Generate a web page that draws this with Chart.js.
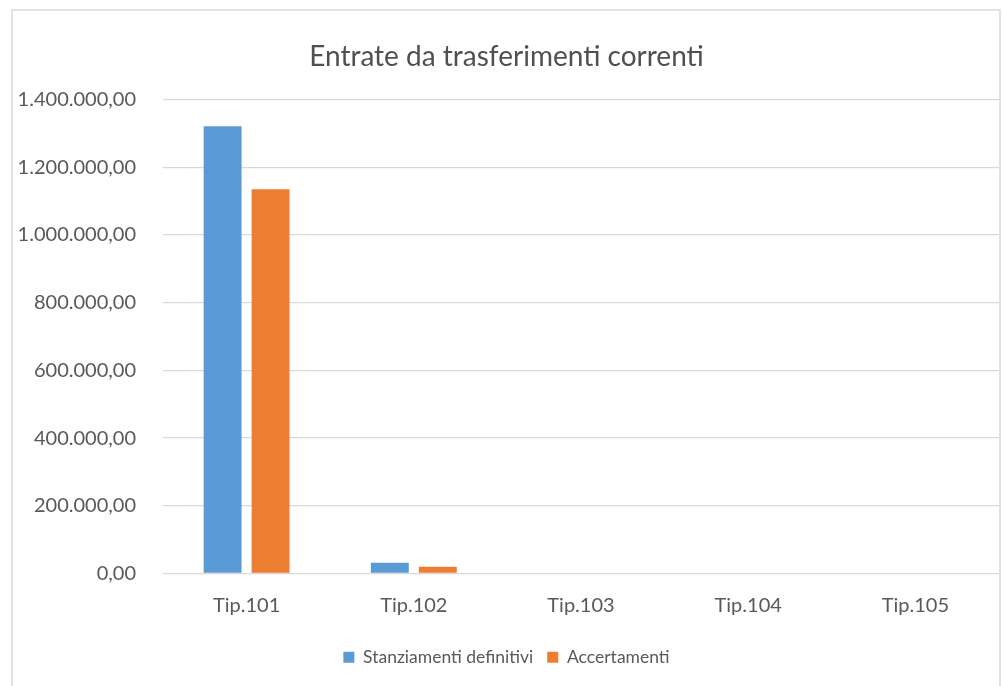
<!DOCTYPE html>
<html>
<head>
<meta charset="utf-8">
<script src="https://cdn.jsdelivr.net/npm/chart.js@4.4.1/dist/chart.umd.min.js"></script>
<style>
  html, body { margin: 0; padding: 0; background: #ffffff; }
  #wrap { position: relative; width: 1003px; height: 686px; }
</style>
</head>
<body>
<div id="wrap"><canvas id="c" width="1003" height="686"></canvas></div>
<script>
const categories = ["Tip.101", "Tip.102", "Tip.103", "Tip.104", "Tip.105"];
const stanziamenti = [1321000, 31500, 0, 0, 0];
const accertamenti = [1135000, 19800, 0, 0, 0];
const yTicks = [0, 200000, 400000, 600000, 800000, 1000000, 1200000, 1400000];

function fmtIt(v) {
  const s = Math.round(v).toString().replace(/\B(?=(\d{3})+(?!\d))/g, ".");
  return s + ",00";
}

const borderPlugin = {
  id: 'outerBorder',
  beforeDraw(chart) {
    const ctx = chart.ctx;
    ctx.save();
    ctx.fillStyle = '#ffffff';
    ctx.fillRect(0, 0, chart.width, chart.height);
    ctx.strokeStyle = '#d9d9d9';
    ctx.lineWidth = 1.5;
    ctx.strokeRect(12, 10, 988, 700);
    ctx.restore();
  }
};

new Chart(document.getElementById('c'), {
  type: 'bar',
  data: {
    labels: categories,
    datasets: [
      { label: 'Stanziamenti definitivi', data: stanziamenti, backgroundColor: '#5B9BD5',
        categoryPercentage: 0.574, barPercentage: 0.79 },
      { label: 'Accertamenti', data: accertamenti, backgroundColor: '#ED7D31',
        categoryPercentage: 0.574, barPercentage: 0.79 }
    ]
  },
  plugins: [borderPlugin],
  options: {
    responsive: false,
    animation: false,
    layout: { padding: { left: 14, right: 4, top: 10, bottom: 10 } },
    plugins: {
      title: {
        display: true,
        text: 'Entrate da trasferimenti correnti',
        color: '#505050',
        font: { family: 'Lato', size: 28, weight: 'normal' },
        padding: { top: 30, bottom: 26 }
      },
      legend: {
        position: 'bottom',
        labels: {
          color: '#595959',
          font: { family: 'Lato', size: 17.5 },
          boxWidth: 11,
          boxHeight: 11,
          padding: 14
        }
      },
      tooltip: { enabled: false }
    },
    scales: {
      x: {
        grid: { display: false, drawTicks: false },
        border: { display: false },
        ticks: { color: '#595959', font: { family: 'Lato', size: 20 }, padding: 20 },
        afterFit(scale) { scale.height = 61; }
      },
      y: {
        min: 0,
        max: 1400000,
        afterBuildTicks(scale) { scale.ticks = yTicks.map(v => ({ value: v })); },
        grid: { color: '#d9d9d9', lineWidth: 1.3, drawTicks: false },
        border: { display: false },
        ticks: {
          color: '#595959',
          font: { family: 'Lato', size: 20 },
          padding: 27,
          callback: (v) => fmtIt(v)
        },
        afterFit(scale) { scale.width = 149; }
      }
    }
  }
});
</script>
</body>
</html>
